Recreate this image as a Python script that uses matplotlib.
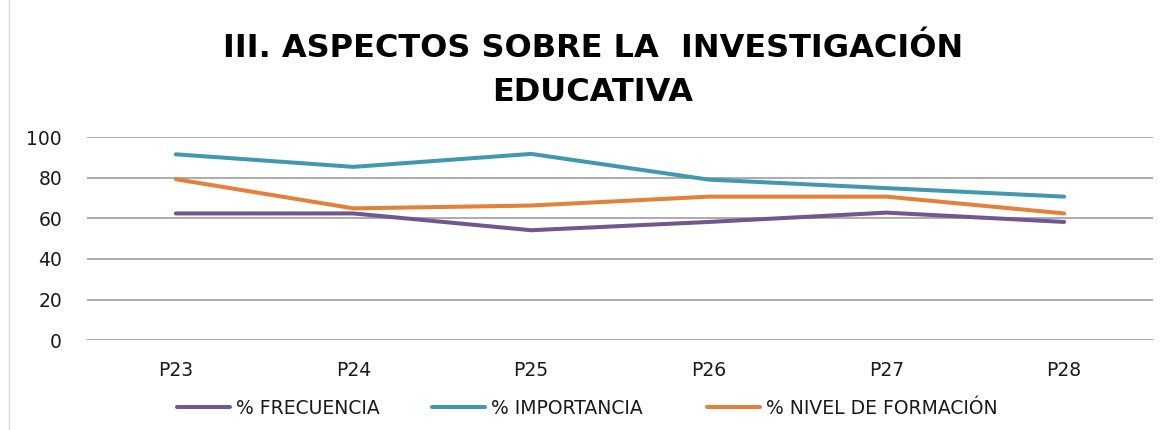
import matplotlib
matplotlib.use('Agg')
import matplotlib.pyplot as plt
from matplotlib.lines import Line2D

# Values
preguntas = ['P23', 'P24', 'P25', 'P26', 'P27', 'P28']
frecuencia = [62.5, 62.5, 54.2, 58.3, 62.9, 58.3]
importancia = [91.7, 85.5, 91.9, 79.2, 75.0, 70.8]
nivel_formacion = [79.4, 65.0, 66.4, 70.8, 70.8, 62.5]

series_labels = ['% FRECUENCIA', '% IMPORTANCIA', '% NIVEL DE FORMACIÓN']
series_colors = ['#71568f', '#4198af', '#e3803a']

plt.rcParams['font.family'] = ['DejaVu Sans']

fig = plt.figure(figsize=(11.69, 4.30), dpi=100)
ax = fig.add_axes([87 / 1169, 1 - 340 / 430, 1066 / 1169, (340 - 137.5) / 430])

x = list(range(len(preguntas)))
for values, color in zip([frecuencia, importancia, nivel_formacion], series_colors):
    ax.plot(x, values, color=color, linewidth=2.9, solid_capstyle='round', zorder=3)

ax.set_xlim(-0.5, len(preguntas) - 0.5)
ax.set_ylim(0, 100)
ax.set_yticks(range(0, 101, 20))
ax.set_xticks(x)
ax.set_xticklabels(preguntas)
ax.grid(axis='y', color='#a6a6a6', linewidth=1.3)
ax.set_axisbelow(True)
for side in ['top', 'right', 'left', 'bottom']:
    ax.spines[side].set_visible(False)
ax.tick_params(axis='both', length=0, labelsize=13.5, colors='#1a1a1a')
ax.tick_params(axis='y', pad=18)
ax.tick_params(axis='x', pad=15)

fig.text(0.507, 0.888, 'III. ASPECTOS SOBRE LA  INVESTIGACIÓN', ha='center', va='center',
         fontsize=23, fontweight='bold', color='black')
fig.text(0.507, 0.785, 'EDUCATIVA', ha='center', va='center',
         fontsize=23, fontweight='bold', color='black')

# one legend per series so each entry sits where the reference puts it
legend_left = [177, 432, 707]
for label, color, left in zip(series_labels, series_colors, legend_left):
    h = Line2D([0], [0], color=color, linewidth=2.9, solid_capstyle='round')
    leg = fig.legend([h], [label], loc='center left', bbox_to_anchor=(left / 1169, 0.05),
                     frameon=False, handlelength=2.8, handletextpad=0.33,
                     borderpad=0, borderaxespad=0, prop={'size': 13.5})
    leg.get_texts()[0].set_color('#1a1a1a')

# faint chart border on the left
fig.add_artist(Line2D([9 / 1169, 9 / 1169], [0, 1], color='#d9d9d9', linewidth=1))

fig.savefig('out.png', dpi=100)
